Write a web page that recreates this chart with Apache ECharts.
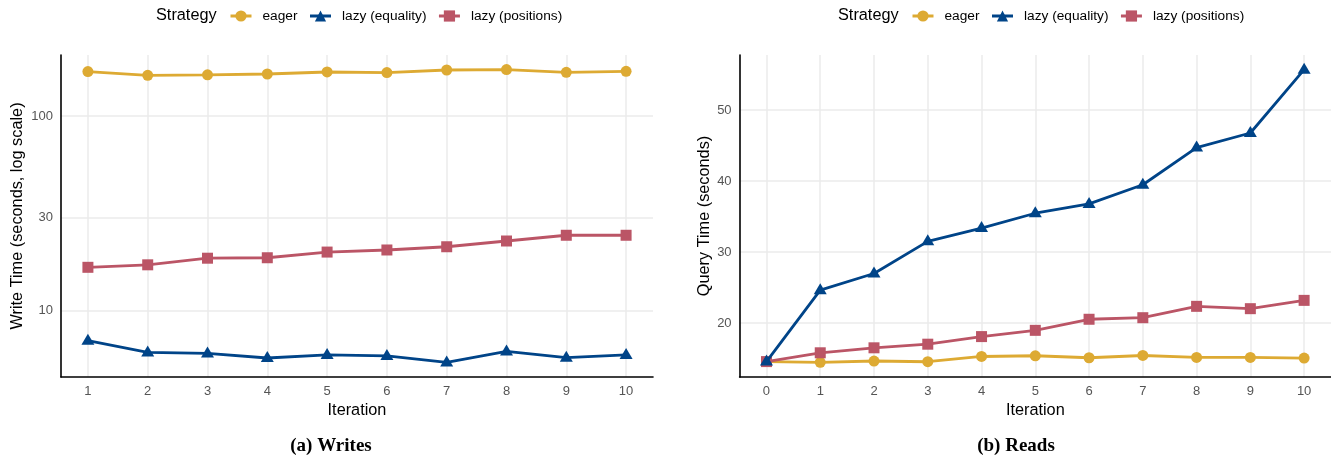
<!DOCTYPE html>
<html>
<head>
<meta charset="utf-8">
<script src="https://cdn.jsdelivr.net/npm/echarts@6/dist/echarts.min.js"></script>
<style>
  html, body { margin: 0; padding: 0; background: #ffffff; }
  #chart { width: 1331px; height: 456px; }
</style>
</head>
<body>
<div id="chart"></div>
<script>
// Strategies compared in both panels
const strategies = ['eager', 'lazy (equality)', 'lazy (positions)'];

// (a) Writes: write time per iteration, seconds (log scale)
const writeIterations = [1, 2, 3, 4, 5, 6, 7, 8, 9, 10];
const writeEager = [169.3, 162.0, 163.0, 164.5, 168.5, 167.3, 172.5, 173.3, 167.9, 169.9];
const writeLazyEquality = [7.01, 6.10, 6.03, 5.71, 5.92, 5.85, 5.42, 6.17, 5.73, 5.92];
const writeLazyPositions = [16.7, 17.2, 18.6, 18.7, 20.0, 20.5, 21.3, 22.8, 24.4, 24.4];
const writeTicks = [10, 30, 100];

// (b) Reads: query time per iteration, seconds
const readIterations = [0, 1, 2, 3, 4, 5, 6, 7, 8, 9, 10];
const readEager = [14.6, 14.49, 14.68, 14.58, 15.32, 15.42, 15.14, 15.46, 15.18, 15.18, 15.09];
const readLazyEquality = [14.6, 24.66, 27.0, 31.53, 33.4, 35.49, 36.8, 39.5, 44.73, 46.79, 55.71];
const readLazyPositions = [14.6, 15.84, 16.54, 17.05, 18.12, 19.0, 20.56, 20.78, 22.38, 22.05, 23.22];
const readTicks = [20, 30, 40, 50];

const colors = {
  'eager': '#DDAA33',
  'lazy (equality)': '#004488',
  'lazy (positions)': '#BB5566'
};
const symbols = {
  'eager': { symbol: 'circle', size: 11, offset: [0, 0] },
  'lazy (equality)': { symbol: 'triangle', size: [13, 11], offset: [0, -1.5] },
  'lazy (positions)': { symbol: 'rect', size: 11, offset: [0, 0] }
};

const FONT = 'Liberation Sans, Arial, sans-serif';
const GRID_COLOR = '#EBEBEB';
const LABEL_COLOR = '#555555';

function pairs(xs, ys) {
  return xs.map((x, i) => [x, ys[i]]);
}

function makeSeries(name, xs, ys, idx, z) {
  const s = symbols[name];
  return {
    name: name,
    type: 'line',
    xAxisIndex: idx,
    yAxisIndex: idx,
    data: pairs(xs, ys),
    symbol: s.symbol,
    symbolSize: s.size,
    symbolOffset: s.offset,
    showAllSymbol: true,
    z: z,
    lineStyle: { color: colors[name], width: 2.8 },
    itemStyle: { color: colors[name], borderWidth: 0 },
    emphasis: { disabled: true },
    animation: false
  };
}

function xAxisFor(idx, min, max, ticks) {
  return {
    type: 'value',
    gridIndex: idx,
    min: min,
    max: max,
    name: 'Iteration',
    nameLocation: 'middle',
    nameGap: 24,
    nameTextStyle: { fontFamily: FONT, fontSize: 16.3, color: '#000000' },
    axisLine: { show: true, onZero: false, lineStyle: { color: '#000000', width: 1.6 } },
    axisTick: { show: false, customValues: ticks },
    axisLabel: { customValues: ticks, fontFamily: FONT, fontSize: 13, color: LABEL_COLOR, margin: 8 },
    splitLine: { show: true, lineStyle: { color: GRID_COLOR, width: 1.5 } }
  };
}

function yAxisFor(idx, type, min, max, ticks, name, gap) {
  const ax = {
    type: type,
    gridIndex: idx,
    min: min,
    max: max,
    name: name,
    nameLocation: 'middle',
    nameGap: gap,
    nameTextStyle: { fontFamily: FONT, fontSize: 16.3, color: '#000000' },
    axisLine: { show: true, onZero: false, lineStyle: { color: '#000000', width: 1.6 } },
    axisTick: { show: false, customValues: ticks },
    axisLabel: { customValues: ticks, fontFamily: FONT, fontSize: 13, color: LABEL_COLOR, margin: 8 },
    splitLine: { show: true, lineStyle: { color: GRID_COLOR, width: 1.5 } }
  };
  if (type === 'log') ax.logBase = 10;
  return ax;
}

function legendFor(left) {
  return {
    left: left,
    top: 9,
    padding: 0,
    orient: 'horizontal',
    data: strategies,
    itemWidth: 21,
    itemHeight: 14,
    itemGap: 11,
    selectedMode: false,
    lineStyle: { width: 3 },
    textStyle: { fontFamily: FONT, fontSize: 13.7, color: '#000000', padding: [0, 0, 0, 6] }
  };
}

function legendTitle(left) {
  return {
    text: 'Strategy',
    left: left,
    top: 8,
    padding: 0,
    textStyle: { fontFamily: FONT, fontSize: 16.3, fontWeight: 'normal', color: '#000000' }
  };
}

const chart = echarts.init(document.getElementById('chart'), null, { renderer: 'canvas' });

const option = {
  backgroundColor: '#ffffff',
  animation: false,
  title: [legendTitle(156), legendTitle(838)],
  legend: [legendFor(229), legendFor(911)],
  grid: [
    { left: 61, top: 55, width: 592, height: 322 },
    { left: 739.6, top: 55, width: 600, height: 322 }
  ],
  xAxis: [
    xAxisFor(0, 0.55, 10.45, writeIterations),
    xAxisFor(1, -0.5, 10.5, readIterations)
  ],
  yAxis: [
    yAxisFor(0, 'log', 4.56, 206, writeTicks, 'Write Time (seconds, log scale)', 35),
    yAxisFor(1, 'value', 12.43, 57.77, readTicks, 'Query Time (seconds)', 27)
  ],
  series: [
    makeSeries('eager', writeIterations, writeEager, 0, 2),
    makeSeries('lazy (positions)', writeIterations, writeLazyPositions, 0, 3),
    makeSeries('lazy (equality)', writeIterations, writeLazyEquality, 0, 4),
    makeSeries('eager', readIterations, readEager, 1, 2),
    makeSeries('lazy (positions)', readIterations, readLazyPositions, 1, 3),
    makeSeries('lazy (equality)', readIterations, readLazyEquality, 1, 4)
  ],
  graphic: [
    {
      type: 'text', x: 331, y: 446,
      style: { text: '(a) Writes', font: 'bold 19px "Liberation Serif", serif', fill: '#000000', textAlign: 'center', textVerticalAlign: 'middle' }
    },
    {
      type: 'text', x: 1016, y: 446,
      style: { text: '(b) Reads', font: 'bold 19px "Liberation Serif", serif', fill: '#000000', textAlign: 'center', textVerticalAlign: 'middle' }
    }
  ]
};

chart.setOption(option);
</script>
</body>
</html>
